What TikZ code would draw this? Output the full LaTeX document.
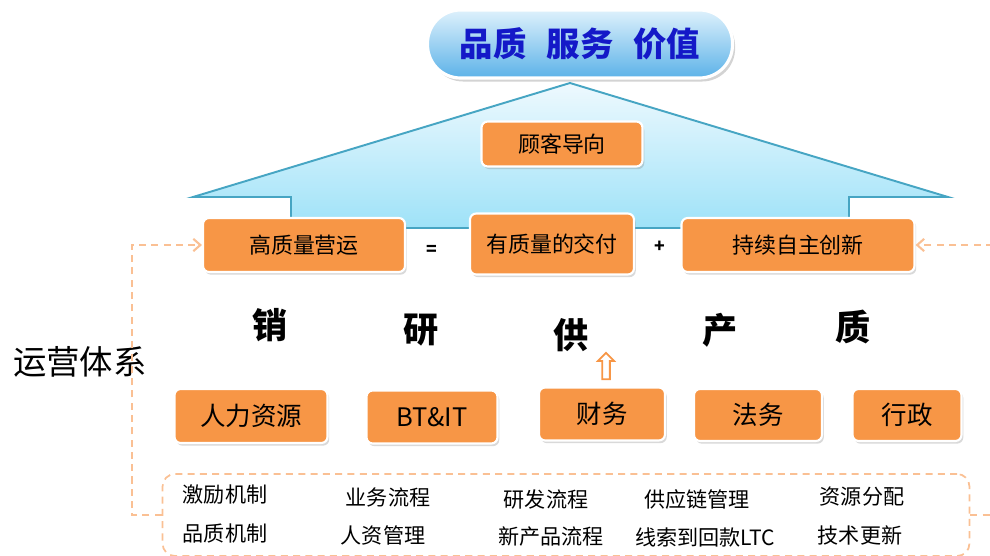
\documentclass[tikz,border=0pt]{standalone}
\usepackage{fontspec}
\setmainfont{Noto Sans CJK SC}
\usepackage{tikz}
\usetikzlibrary{positioning}
\usetikzlibrary{shapes,shadows,calc,arrows.meta}
\definecolor{boxorange}{RGB}{247,150,70}
\definecolor{dashorange}{RGB}{250,192,148}
\definecolor{roofline}{RGB}{70,165,195}
\definecolor{rooftop}{RGB}{238,249,254}
\definecolor{roofbot}{RGB}{158,226,248}
\definecolor{pilltop}{RGB}{222,241,252}
\definecolor{pillbot}{RGB}{92,178,232}
\definecolor{titleblue}{RGB}{20,25,200}
\tikzset{
  obox/.style = {rectangle, rounded corners=3.5pt, fill=boxorange, draw=white,
   line width=1.2pt, inner sep=0pt,
   drop shadow={shadow xshift=1pt, shadow yshift=-1.5pt, opacity=0.3},
   font=\fontsize{12.5}{14}\selectfont},
  sbox/.style = {obox, font=\fontsize{14.5}{16}\selectfont},
  bigchar/.style = {font=\fontsize{20}{22}\selectfont\bfseries},
  item/.style = {font=\fontsize{12}{14}\selectfont},
  dline/.style = {draw=dashorange, line width=1.2pt, dash pattern=on 4pt off 3pt},
}

\begin{document}
\begin{tikzpicture}[x=0.02cm, y=-0.02cm]
\useasboundingbox (0,0) rectangle (990,555);
\fill[top color=rooftop, bottom color=roofbot] (570,83) -- (948,197) -- (849,197) -- (849,228)
  -- (291,228) -- (291,197) -- (193,197) -- cycle;
\draw[roofline, line width=1.1pt] (570,83) -- (948,197) -- (849,197) -- (849,228)
  -- (291,228) -- (291,197) -- (193,197) -- cycle;
\node at(580,44) (top) [rectangle, rounded corners=0.66cm, minimum width=6.1cm,
  minimum height=1.36cm, top color=pilltop, bottom color=pillbot, draw=white,
  line width=1.8pt, drop shadow={shadow xshift=1.5pt, shadow yshift=-2pt, opacity=0.35},
  font=\fontsize{19}{21}\selectfont\bfseries, text=titleblue]
  {品质\hspace{0.6em}服务\hspace{0.6em}价值};
\node at(562,144) (gk) [obox, minimum width=3.22cm, minimum height=0.9cm] {顾客导向};
\node at(304,245) (gzl) [obox, minimum width=4.04cm, minimum height=1.08cm] {高质量营运};
\node at(552,244) (yzl) [obox, minimum width=3.28cm, minimum height=1.22cm] {有质量的交付};
\node at(798,245) (cx) [obox, minimum width=4.66cm, minimum height=1.08cm] {持续自主创新};
\node at(432,250) (eq) [font=\bfseries] {=};
\node at(660,247) (plus) [font=\bfseries] {+};
\node at(270,325) (xiao) [bigchar] {销};
\node at(421,330) (yan) [bigchar] {研};
\node at(571,335) (gong) [bigchar] {供};
\node at(720,330) (chan) [bigchar] {产};
\node at(853,327) (zhi) [bigchar] {质};
\node at(606,368) (up) [single arrow, draw=boxorange, fill=white, line width=1pt,
  rotate=90, minimum height=15pt, inner sep=1.7pt, single arrow head extend=2.4pt] {};
\node at(80,362) (yy) [font=\fontsize{19}{22}\selectfont] {运营体系};
\node at(251,416) (rl) [sbox, minimum width=3.06cm, minimum height=1.08cm] {人力资源};
\node at(432,417) (bt) [sbox, minimum width=2.62cm, minimum height=1.06cm] {BT\&IT};
\node at(602,414) (cw) [sbox, minimum width=2.52cm, minimum height=1.06cm] {财务};
\node at(758,415) (fw) [sbox, minimum width=2.56cm, minimum height=1.04cm] {法务};
\node at(907,415) (xz) [sbox, minimum width=2.18cm, minimum height=1.04cm] {行政};
\node at(566,515) (lc) [draw=dashorange, line width=1pt, dash pattern=on 4pt off 3pt,
  rounded corners=7pt, minimum width=16.14cm, minimum height=1.64cm] {};
\node at(225,495) (jl) [item] {激励机制};
\node at(225,533) (pz) [item] {品质机制};
\node at(388,497) (yw) [item] {业务流程};
\node at(383,535) (rz) [item] {人资管理};
\node at(546,499) (yf) [item] {研发流程};
\node at(551,537) (xcp) [item] {新产品流程};
\node at(697,499) (gyl) [item] {供应链管理};
\node at(705,537) (ltc) [item] {线索到回款LTC};
\node at(862,497) (zy) [item] {资源分配};
\node at(860,535) (js) [item] {技术更新};
\draw[dline, -{Straight Barb[length=4pt, width=7pt]}] (lc.west) -- ++(-30,0) |- (gzl.west);
\draw[dline, -{Straight Barb[length=4pt, width=7pt]}] (lc.east) -- ++(30,0) |- (cx.east);
\end{tikzpicture}
\end{document}
